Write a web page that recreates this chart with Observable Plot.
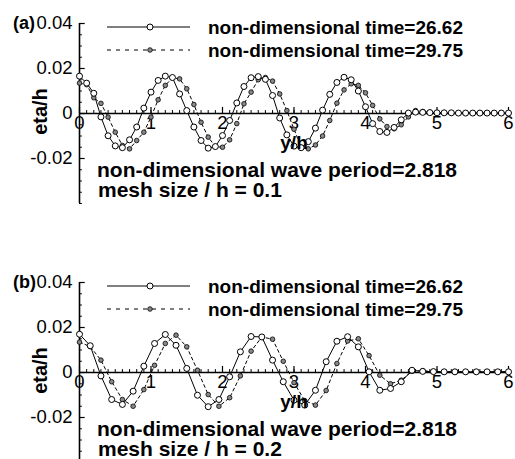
<!DOCTYPE html>
<html><head><meta charset="utf-8">
<script src="https://cdn.jsdelivr.net/npm/d3@7"></script>
<script src="https://cdn.jsdelivr.net/npm/@observablehq/plot@0.6"></script>
<style>
html,body{margin:0;padding:0;background:#fff;overflow:hidden;}
#chart{width:515px;height:459px;overflow:hidden;position:relative;background:#fff;}
#chart svg{display:block;}
</style></head><body><div id="chart"></div>
<script>
// ---- data ----
const seriesNames = ["non-dimensional time=26.62", "non-dimensional time=29.75"];
const annotation1 = "non-dimensional wave period=2.818";
const meshLabels = ["mesh size / h = 0.1", "mesh size / h = 0.2"];
const panelLabels = ["(a)", "(b)"];

const xTicks = [0, 1, 2, 3, 4, 5, 6];
const xTickLabels = ["0", "1", "2", "3", "4", "5", "6"];
const yTicks = [0.04, 0.02, 0, -0.02];
const yTickLabels = ["0.04", "0.02", "0", "-0.02"];

// panel (a): mesh 0.1
const xA = [0,0.1,0.2,0.3,0.4,0.5,0.6,0.7,0.8,0.9,1,1.1,1.2,1.3,1.4,1.5,1.6,1.7,1.8,1.9,2,2.1,2.2,2.3,2.4,2.5,2.6,2.7,2.8,2.9,3,3.1,3.2,3.3,3.4,3.5,3.6,3.7,3.8,3.9,4,4.1,4.2,4.3,4.4,4.5,4.6,4.7,4.8,4.9,5,5.1,5.2,5.3,5.4,5.5,5.6,5.7,5.8,5.9,6];
const solidA = [0.0166,0.0135,0.0090,-0.0015,-0.0099,-0.0144,-0.0152,-0.0117,-0.0060,0.0024,0.0095,0.0147,0.0166,0.0160,0.0087,0.0013,-0.0060,-0.0120,-0.0154,-0.0147,-0.0098,-0.0031,0.0047,0.0120,0.0159,0.0164,0.0152,0.0080,-0.0020,-0.0095,-0.0145,-0.0152,-0.0125,-0.0065,0.0015,0.0085,0.0138,0.0161,0.0150,0.0100,0.0030,-0.0045,-0.0080,-0.0084,-0.0062,-0.0028,0.0002,0.0006,0.0005,0.0004,0.0003,0.0003,0.0003,0.0002,0.0002,0.0002,0.0002,0.0002,0.0002,0.0002,0.0002];
const dashedA = [0.0135,0.0128,0.0070,0.0045,-0.0016,-0.0083,-0.0142,-0.0157,-0.0120,-0.0083,-0.0016,0.0061,0.0125,0.0159,0.0154,0.0110,0.0040,-0.0039,-0.0105,-0.0147,-0.0150,-0.0117,-0.0045,0.0043,0.0095,0.0150,0.0160,0.0144,0.0087,0.0013,-0.0070,-0.0150,-0.0157,-0.0140,-0.0100,-0.0031,0.0046,0.0105,0.0132,0.0125,0.0092,0.0036,-0.0024,-0.0058,-0.0068,-0.0050,-0.0015,0.0013,0.0009,0.0006,0.0004,0.0004,0.0003,0.0003,0.0003,0.0003,0.0003,0.0003,0.0003,0.0003,0.0003];

// panel (b): mesh 0.2
const xB = [0,0.15,0.3,0.45,0.6,0.75,0.9,1.05,1.2,1.35,1.5,1.65,1.8,1.95,2.1,2.25,2.4,2.55,2.7,2.85,3,3.15,3.3,3.45,3.6,3.75,3.9,4.05,4.2,4.35,4.5,4.65,4.8,4.95,5.1,5.25,5.4,5.55,5.7,5.85,6];
const solidB = [0.0170,0.0119,-0.0015,-0.0120,-0.0142,-0.0083,0.0028,0.0129,0.0169,0.0121,0.0018,-0.0101,-0.0152,-0.0120,-0.0019,0.0092,0.0160,0.0158,0.0055,-0.0041,-0.0123,-0.0145,-0.0079,0.0048,0.0139,0.0159,0.0114,0.0003,-0.0079,-0.0071,-0.0041,0.0010,0.0005,0.0004,0.0003,0.0003,0.0003,0.0003,0.0003,0.0003,0.0003];
const dashedB = [0.0135,0.0115,0.0055,-0.0041,-0.0120,-0.0150,-0.0076,0.0032,0.0129,0.0166,0.0114,0.0010,-0.0098,-0.0150,-0.0112,-0.0015,0.0095,0.0158,0.0148,0.0050,-0.0045,-0.0125,-0.0145,-0.0080,0.0040,0.0140,0.0150,0.0075,-0.0012,-0.0050,-0.0034,0.0005,0.0008,0.0005,0.0003,0.0003,0.0003,0.0003,0.0003,0.0003,0.0003];

const xMinor = d3.range(0, 6.0001, 0.1);
const yMinor = d3.range(-0.04, 0.04001, 0.005);

const FONT = "'Liberation Sans', Arial, Helvetica, sans-serif";

function panel(label, xs, solid, dashed, meshText, height, marginTop, marginBottom) {
  const sData = xs.map((x, i) => ({x, y: solid[i]}));
  const dData = xs.map((x, i) => ({x, y: dashed[i]}));
  const svg = Plot.plot({
    width: 515, height, marginTop, marginBottom, marginLeft: 79, marginRight: 7,
    x: {domain: [0, 6], axis: null},
    y: {domain: [-0.04, 0.04], axis: null},
    style: {fontFamily: FONT, background: "white", overflow: "visible", color: "black"},
    marks: [
      Plot.ruleY(yMinor, {y: d => d, x1: 0, x2: 0.04, stroke: "black", strokeWidth: 1}),
      Plot.ruleY(yTicks, {y: d => d, x1: 0, x2: 0.08, stroke: "black", strokeWidth: 1.2}),
      Plot.ruleX(xMinor, {x: d => d, y1: 0, y2: 0.0013, stroke: "black", strokeWidth: 1}),
      Plot.ruleX(xTicks, {x: d => d, y1: 0, y2: 0.0027, stroke: "black", strokeWidth: 1.2}),
      Plot.ruleY([0], {stroke: "black", strokeWidth: 1.6}),
      Plot.ruleX([0], {stroke: "black", strokeWidth: 1.6}),
      Plot.text(yTicks, {x: 0, y: d => d, text: (d, i) => yTickLabels[i], textAnchor: "end", dx: -7, fontSize: 18.5}),
      Plot.text(xTicks, {x: d => d, y: 0, text: (d, i) => xTickLabels[i], dy: 10, fontSize: 18.5}),
      Plot.text(["eta/h"], {x: 0, y: 0, text: d => d, dx: -39, dy: -2, rotate: -90, fontSize: 20, fontWeight: "bold"}),
      Plot.line(dData, {x: "x", y: "y", stroke: "black", strokeWidth: 1, strokeDasharray: "3,3"}),
      Plot.line(sData, {x: "x", y: "y", stroke: "black", strokeWidth: 1}),
      Plot.dot(dData, {x: "x", y: "y", r: 2.3, fill: "#888", stroke: "black", strokeWidth: 0.8}),
      Plot.dot(sData, {x: "x", y: "y", r: 3, fill: "white", stroke: "black", strokeWidth: 1}),
      Plot.text(["y/h"], {x: 3, y: 0, text: d => d, dy: 29, fontSize: 19, fontWeight: "bold"})
    ]
  });
  const g = d3.select(svg).append("g").attr("font-family", FONT).attr("fill", "black").attr("text-anchor", "start");
  // panel label
  g.append("text").attr("x", 13).attr("y", marginTop).attr("dy", "0.35em")
    .attr("font-size", 18).attr("font-weight", "bold").text(label);
  // legend
  const ly = [marginTop + 4, marginTop + 27];
  g.append("line").attr("x1", 107).attr("x2", 190).attr("y1", ly[0]).attr("y2", ly[0])
    .attr("stroke", "black").attr("stroke-width", 1);
  g.append("circle").attr("cx", 150).attr("cy", ly[0]).attr("r", 3).attr("fill", "white").attr("stroke", "black");
  g.append("line").attr("x1", 107).attr("x2", 190).attr("y1", ly[1]).attr("y2", ly[1])
    .attr("stroke", "black").attr("stroke-width", 1).attr("stroke-dasharray", "4,5");
  g.append("circle").attr("cx", 150).attr("cy", ly[1]).attr("r", 2.3).attr("fill", "#888").attr("stroke", "black").attr("stroke-width", 0.8);
  seriesNames.forEach((s, i) => {
    g.append("text").attr("x", 208).attr("y", ly[i]).attr("dy", "0.35em")
      .attr("font-size", 19).attr("font-weight", "bold").text(s);
  });
  // annotation
  g.append("text").attr("x", 97).attr("y", marginTop + 147).attr("dy", "0.35em")
    .attr("font-size", 21).attr("font-weight", "bold").text(annotation1);
  g.append("text").attr("x", 98).attr("y", marginTop + 167).attr("dy", "0.35em")
    .attr("font-size", 21).attr("font-weight", "bold").text(meshText);
  return svg;
}

const root = document.getElementById("chart");
root.appendChild(panel(panelLabels[0], xA, solidA, dashedA, meshLabels[0], 230, 23, 27));
root.appendChild(panel(panelLabels[1], xB, solidB, dashedB, meshLabels[1], 232, 52, 0));
</script></body></html>
